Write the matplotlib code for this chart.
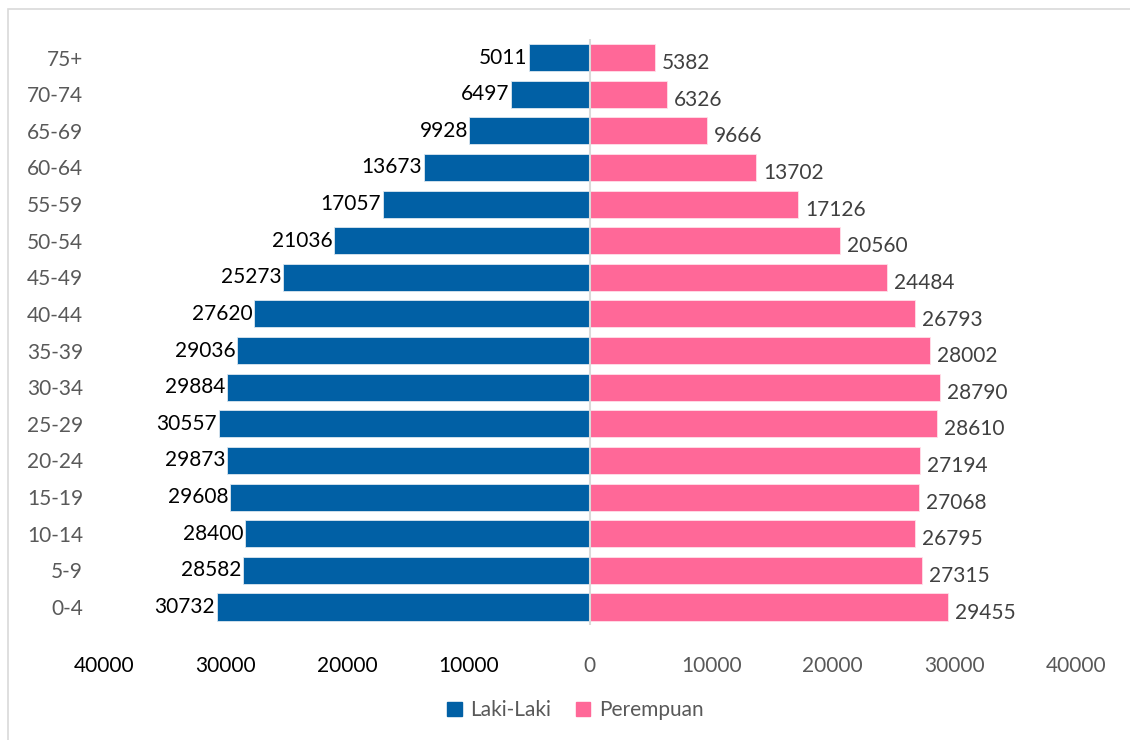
import numpy as np
import matplotlib.pyplot as plt
from matplotlib.patches import Rectangle, Patch

plt.rcParams['font.family'] = ['Lato', 'DejaVu Sans']

groups = ['0-4', '5-9', '10-14', '15-19', '20-24', '25-29', '30-34', '35-39',
          '40-44', '45-49', '50-54', '55-59', '60-64', '65-69', '70-74', '75+']
laki = [30732, 28582, 28400, 29608, 29873, 30557, 29884, 29036,
        27620, 25273, 21036, 17057, 13673, 9928, 6497, 5011]
perempuan = [29455, 27315, 26795, 27068, 27194, 28610, 28790, 28002,
             26793, 24484, 20560, 17126, 13702, 9666, 6326, 5382]
ticks = [-40000, -30000, -20000, -10000, 0, 10000, 20000, 30000, 40000]

blue = '#0160a5'
pink = '#ff6898'
grey = '#595959'

fig = plt.figure(figsize=(11.3, 7.4), dpi=100)
ax = fig.add_axes([0.092, 0.155, 0.860, 0.792])

y = np.arange(len(groups))
ax.barh(y, -np.array(laki), height=0.74, color=blue, edgecolor='#dce6f0', linewidth=0.6)
ax.barh(y, perempuan, height=0.74, color=pink, edgecolor='#ffe0ea', linewidth=0.6)
ax.axvline(0, color='#d9d9d9', linewidth=1.5, zorder=3)

for i in range(len(groups)):
    ax.annotate(str(laki[i]), (-laki[i], y[i]), xytext=(-1, 0), textcoords='offset points',
                ha='right', va='center', fontsize=15, color='black')
    ax.annotate(str(perempuan[i]), (perempuan[i], y[i]), xytext=(5, -4), textcoords='offset points',
                ha='left', va='center', fontsize=15, color='#404040')

ax.set_xlim(-40000, 40000)
ax.set_ylim(-0.5, len(groups) - 0.5)
ax.set_yticks(y)
ax.set_yticklabels(groups, fontsize=15, color=grey)
ax.set_xticks(ticks)
ax.set_xticklabels([str(abs(t)) for t in ticks], fontsize=15)
for t, lab in zip(ticks, ax.get_xticklabels()):
    lab.set_color('black' if t < 0 else grey)
ax.tick_params(axis='both', length=0)
ax.tick_params(axis='x', pad=22)
ax.tick_params(axis='y', pad=15)
for s in ax.spines.values():
    s.set_visible(False)

handles = [Patch(color=blue, label='Laki-Laki'), Patch(color=pink, label='Perempuan')]
fig.legend(handles=handles, loc='center', bbox_to_anchor=(0.509, 0.04), ncol=2, frameon=False,
           fontsize=15, handlelength=0.7, handleheight=0.7, handletextpad=0.4, columnspacing=1.2,
           labelcolor=grey)

fig.patches.append(Rectangle((8 / 1130, -0.1), 1.2, 1.1 - 9 / 740, transform=fig.transFigure,
                             fill=False, edgecolor='#d9d9d9', linewidth=1.2))

fig.savefig('out.png', dpi=100)
